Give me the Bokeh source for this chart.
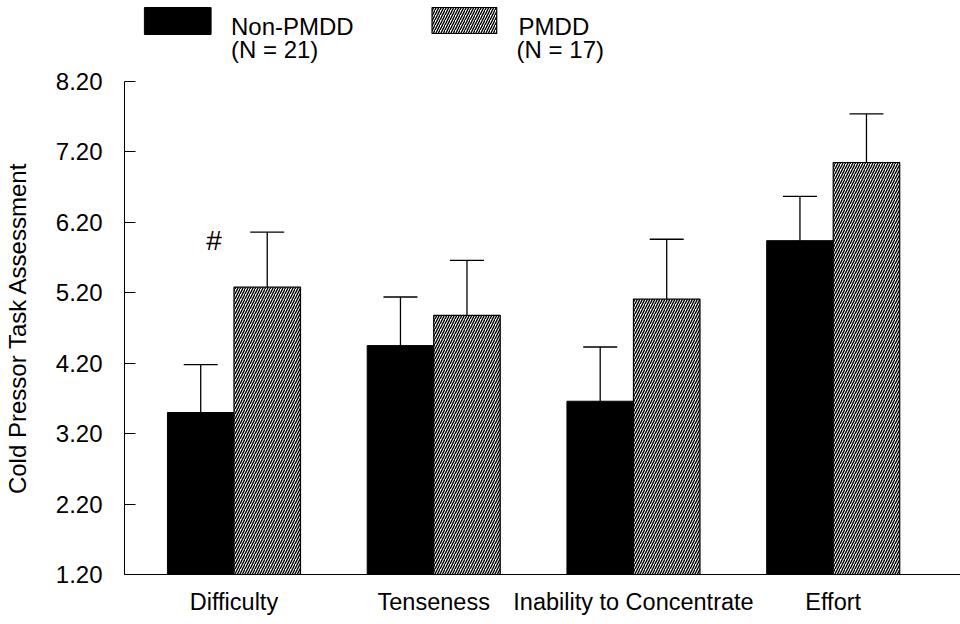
from bokeh.plotting import figure
from bokeh.layouts import column
from bokeh.models import (ColumnDataSource, Range1d, FixedTicker, PrintfTickFormatter,
                          Whisker, TeeHead)
from bokeh.core.properties import value
from bokeh.embed import file_html
from bokeh.resources import INLINE

# ---- data ----
categories = ["Difficulty", "Tenseness", "Inability to Concentrate", "Effort"]
non_pmdd = [3.50, 4.45, 3.66, 5.94]
non_pmdd_se = [0.68, 0.69, 0.77, 0.63]
pmdd = [5.28, 4.88, 5.11, 7.05]
pmdd_se = [0.78, 0.78, 0.85, 0.69]
y_ticks = [1.2, 2.2, 3.2, 4.2, 5.2, 6.2, 7.2, 8.2]
legend_names = ["Non-PMDD", "PMDD"]
legend_ns = ["(N = 21)", "(N = 17)"]
y_label = "Cold Pressor Task Assessment"
marker_text = "#"

FONT = "Liberation Sans"
W, H = 960, 624
LEFT, BOTTOM = 120, 50
REF_LEFT = 122             # where the axis appears in the target picture
LEG_H = 64                 # height of the legend strip above the plot
FRAME_TOP = 81             # page y of the 8.20 tick
px_per_x = 200.7
frame_w = W - LEFT
x0 = 1 - 110 / px_per_x
x1 = x0 + frame_w / px_per_x
frame_h = H - BOTTOM - FRAME_TOP
px_per_y = frame_h / (y_ticks[-1] - y_ticks[0])

def px2x(px):
    return x0 + (px - REF_LEFT) / px_per_x

def px2y(py):
    return y_ticks[0] + (H - BOTTOM - py) / px_per_y

xr = Range1d(x0, x1)

# ---- legend strip ----
lg = figure(width=W, height=LEG_H, output_backend="svg", toolbar_location=None,
            x_range=xr, y_range=Range1d(LEG_H, 0),
            min_border_left=LEFT, min_border_right=0, min_border_top=0,
            min_border_bottom=0)
lg.axis.visible = False
lg.xgrid.visible = False
lg.ygrid.visible = False
lg.outline_line_color = None

HATCH = dict(hatch_pattern="/", hatch_color="black", hatch_scale=5, hatch_weight=1.4)

lg.quad(left=[px2x(142)], right=[px2x(209)], top=[7], bottom=[34],
        fill_color="black", line_color="black")
lg.quad(left=[px2x(431)], right=[px2x(496)], top=[7], bottom=[33],
        fill_color="white", line_color="black", line_width=1.2, **HATCH)
lg.text(x=[px2x(229), px2x(518)], y=[26, 26], text=legend_names,
        text_font=value(FONT), text_font_size="24px", text_baseline="middle",
        text_color="black")
lg.text(x=[px2x(229), px2x(516)], y=[49, 49], text=legend_ns,
        text_font=value(FONT), text_font_size="24px", text_baseline="middle",
        text_color="black")

# ---- main plot ----
p = figure(width=W, height=H - LEG_H, output_backend="svg", toolbar_location=None,
           x_range=xr, y_range=Range1d(y_ticks[0], y_ticks[-1]),
           min_border_left=LEFT, min_border_right=0,
           min_border_top=FRAME_TOP - LEG_H, min_border_bottom=BOTTOM)
p.outline_line_color = None
p.xgrid.visible = False
p.ygrid.visible = False

xs = list(range(1, len(categories) + 1))
bw = 0.333
src = ColumnDataSource(dict(
    xa=[x - bw / 2 for x in xs], xb=[x + bw / 2 for x in xs],
    a=non_pmdd, b=pmdd,
    a_up=[v + s for v, s in zip(non_pmdd, non_pmdd_se)],
    b_up=[v + s for v, s in zip(pmdd, pmdd_se)],
))

p.vbar(x="xa", top="a", bottom=y_ticks[0], width=bw, source=src,
       fill_color="black", line_color="black", line_width=1)
p.vbar(x="xb", top="b", bottom=y_ticks[0], width=bw, source=src,
       fill_color="white", line_color="black", line_width=1.2, **HATCH)

for base, lo, up in (("xa", "a", "a_up"), ("xb", "b", "b_up")):
    wk = Whisker(source=src, base=base, lower=lo, upper=up, dimension="height",
                 line_color="black", line_width=1.3, lower_head=None,
                 upper_head=TeeHead(size=34, line_color="black", line_width=1.3))
    p.add_layout(wk)

# significance marker
p.text(x=[px2x(212)], y=[px2y(240)], text=[marker_text], text_font=value(FONT),
       text_font_size="28px", text_align="center", text_baseline="middle",
       text_color="black")

# y axis
ya = p.yaxis[0]
ya.ticker = FixedTicker(ticks=y_ticks)
ya.formatter = PrintfTickFormatter(format="%.2f")
ya.major_tick_in = 11
ya.major_tick_out = 0
ya.minor_tick_in = 0
ya.minor_tick_out = 0
ya.major_label_standoff = 22
ya.major_label_text_font = FONT
ya.major_label_text_font_size = "24px"
ya.major_label_text_color = "black"
ya.axis_line_color = "black"
ya.major_tick_line_color = "black"
ya.axis_label = y_label
ya.axis_label_text_font = FONT
ya.axis_label_text_font_size = "24px"
ya.axis_label_text_font_style = "normal"
ya.axis_label_text_color = "black"
ya.axis_label_standoff = 22

# x axis
xa = p.xaxis[0]
xa.ticker = FixedTicker(ticks=xs)
xa.major_label_overrides = {x: c for x, c in zip(xs, categories)}
xa.major_tick_in = 0
xa.major_tick_out = 0
xa.minor_tick_in = 0
xa.minor_tick_out = 0
xa.major_label_standoff = 14
xa.major_label_text_font = FONT
xa.major_label_text_font_size = "23.5px"
xa.major_label_text_color = "black"
xa.axis_line_color = "black"

layout = column(lg, p, spacing=0)
open("out.html", "w").write(file_html(layout, INLINE))
